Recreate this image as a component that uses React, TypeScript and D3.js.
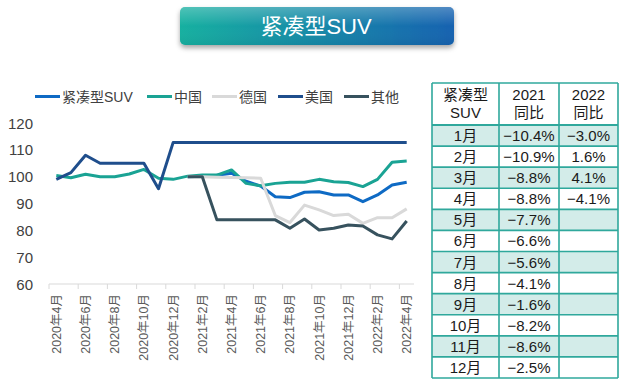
import React from 'react';
import * as d3 from 'd3';

const months = [
  '2020年4月', '2020年5月', '2020年6月', '2020年7月', '2020年8月', '2020年9月', '2020年10月',
  '2020年11月', '2020年12月', '2021年1月', '2021年2月', '2021年3月', '2021年4月', '2021年5月',
  '2021年6月', '2021年7月', '2021年8月', '2021年9月', '2021年10月', '2021年11月', '2021年12月',
  '2022年1月', '2022年2月', '2022年3月', '2022年4月',
];

const compactSuv = [null, null, null, null, null, null, null, null, null,
  100, 100.2, 100.5, 101.3, 98.3, 96.5, 92.5, 92.2, 94.2, 94.4, 93.2, 93.2, 90.7, 93.2, 96.9, 97.9];
const china = [100.4, 99.6, 100.9, 100, 100, 101, 102.7, 99.4, 99.0, 100.2, 100.6, 100.6, 102.5,
  97.5, 96.6, 97.5, 97.9, 97.9, 99.0, 98.1, 97.8, 96.3, 99.0, 105.4, 105.8];
const germany = [null, null, null, null, null, null, null, null, null,
  100, 100, 99.8, 99.7, 99.6, 99.4, 85.5, 82.9, 89.4, 87.6, 85.5, 86.0, 82.6, 84.7, 84.7, 88.0];
const usa = [99.0, 101.5, 108, 105, 105, 105, 105, 95.5, 112.7, 112.7, 112.7, 112.7, 112.7,
  112.7, 112.7, 112.7, 112.7, 112.7, 112.7, 112.7, 112.7, 112.7, 112.7, 112.7, 112.7];
const others = [null, null, null, null, null, null, null, null, null,
  100, 100, 83.9, 83.9, 83.9, 83.9, 83.9, 80.8, 84.2, 80.1, 80.8, 82.0, 81.6, 78.3, 76.8, 83.5];

const seriesNames = ['紧凑型SUV', '中国', '德国', '美国', '其他'];
const seriesColors = ['#0e6ac4', '#1aa394', '#d9d9d9', '#1f4e8c', '#37525e'];
const seriesValues = [compactSuv, china, germany, usa, others];
const yTicks = [60, 70, 80, 90, 100, 110, 120];

const tableMonths = ['1月', '2月', '3月', '4月', '5月', '6月', '7月', '8月', '9月', '10月', '11月', '12月'];
const yoy2021 = [-10.4, -10.9, -8.8, -8.8, -7.7, -6.6, -5.6, -4.1, -1.6, -8.2, -8.6, -2.5];
const yoy2022 = [-3.0, 1.6, 4.1, -4.1];

const font = "'Liberation Sans', Arial, 'Noto Sans CJK SC', sans-serif";

export default function App() {
  const x = d3.scaleBand<string>().domain(months).range([49, 414]).padding(0);
  const y = d3.scaleLinear().domain([60, 120]).range([284, 123]);
  const cx = (i: number) => (x(months[i]) ?? 0) + x.bandwidth() / 2;

  const line = d3.line<number | null>()
    .defined(d => d != null)
    .x((_, i) => cx(i))
    .y(d => y(d as number));

  // legend positions
  const legendX = [35, 147, 212, 278, 344];

  // table
  const colX = [432, 499, 559, 618];
  const rows = d3.scaleBand<string>().domain(tableMonths).range([125, 378]).padding(0);
  const fmt = d3.format('.1f');
  const border = '#2fa89c';

  return (
    <svg width={620} height={386} style={{ position: 'absolute', left: 0, top: 0, fontFamily: font }}>
      <defs>
        <linearGradient id="titleGrad" x1="0" x2="1" y1="0" y2="0">
          <stop offset="0" stopColor="#16b0a0" />
          <stop offset="1" stopColor="#1462b0" />
        </linearGradient>
        <linearGradient id="titleGloss" x1="0" x2="0" y1="0" y2="1">
          <stop offset="0" stopColor="#ffffff" stopOpacity={0.25} />
          <stop offset="0.5" stopColor="#ffffff" stopOpacity={0} />
          <stop offset="1" stopColor="#000000" stopOpacity={0.05} />
        </linearGradient>
        <filter id="shadow" x="-10%" y="-30%" width="120%" height="180%">
          <feDropShadow dx="0" dy="3" stdDeviation="2.5" floodColor="#000" floodOpacity={0.35} />
        </filter>
      </defs>
      <rect width={620} height={386} fill="#fff" />

      {/* title */}
      <rect x={180} y={7} width={274} height={38} rx={5} fill="url(#titleGrad)" filter="url(#shadow)" />
      <rect x={180} y={7} width={274} height={38} rx={5} fill="url(#titleGloss)" />
      <text x={316} y={34} textAnchor="middle" fill="#fff" fontSize={22}>紧凑型SUV</text>

      {/* legend */}
      {seriesNames.map((n, i) => (
        <g key={n}>
          <line x1={legendX[i]} x2={legendX[i] + 25} y1={96.5} y2={96.5} stroke={seriesColors[i]} strokeWidth={3} />
          <text x={legendX[i] + 27} y={101.5} fontSize={14} fill="#404040">{n}</text>
        </g>
      ))}

      {/* y axis labels */}
      {yTicks.map(t => (
        <text key={t} x={33} y={y(t) + 5.5} textAnchor="end" fontSize={15} fill="#404040">{t}</text>
      ))}

      {/* x axis */}
      <line x1={49} x2={414} y1={284} y2={284} stroke="#d9d9d9" strokeWidth={1.2} />
      {months.map((m, i) => i % 2 === 0 ? (
        <g key={m}>
          <line x1={x(m)} x2={x(m)} y1={284} y2={289} stroke="#d9d9d9" strokeWidth={1} />
          <text transform={`translate(${cx(i) + 4.5},294) rotate(-90)`} textAnchor="end" fontSize={12.5} fill="#595959">{m}</text>
        </g>
      ) : null)}

      {/* lines */}
      {seriesValues.map((vals, i) => (
        <path key={seriesNames[i]} d={line(vals) ?? ''} fill="none" stroke={seriesColors[i]} strokeWidth={3} strokeLinejoin="round" />
      ))}

      {/* table */}
      <rect x={colX[0]} y={83} width={colX[3] - colX[0]} height={42} fill="#fff" />
      {tableMonths.map((m, i) => (
        <rect key={m} x={colX[0]} y={rows(m)} width={colX[3] - colX[0]} height={rows.bandwidth()}
          fill={i % 2 === 0 ? '#d3ece9' : '#fff'} />
      ))}
      {[83, 125, ...tableMonths.map(m => (rows(m) ?? 0) + rows.bandwidth())].map((yy, i) => (
        <line key={'h' + i} x1={colX[0]} x2={colX[3]} y1={yy} y2={yy} stroke={border} strokeWidth={i === 1 ? 2 : 1.6} />
      ))}
      {colX.map((xx, i) => (
        <line key={'v' + i} x1={xx} x2={xx} y1={83} y2={378} stroke={border} strokeWidth={1.6} />
      ))}
      <g fontSize={15} fill="#1a1a1a" textAnchor="middle">
        <text x={(colX[0] + colX[1]) / 2} y={100}>紧凑型</text>
        <text x={(colX[0] + colX[1]) / 2} y={118}>SUV</text>
        <text x={(colX[1] + colX[2]) / 2} y={100}>2021</text>
        <text x={(colX[1] + colX[2]) / 2} y={118}>同比</text>
        <text x={(colX[2] + colX[3]) / 2} y={100}>2022</text>
        <text x={(colX[2] + colX[3]) / 2} y={118}>同比</text>
        {tableMonths.map((m, i) => {
          const yy = (rows(m) ?? 0) + rows.bandwidth() / 2 + 5.5;
          return (
            <g key={m}>
              <text x={(colX[0] + colX[1]) / 2} y={yy}>{m}</text>
              <text x={(colX[1] + colX[2]) / 2} y={yy}>{fmt(yoy2021[i])}%</text>
              {i < yoy2022.length ? <text x={(colX[2] + colX[3]) / 2} y={yy}>{fmt(yoy2022[i])}%</text> : null}
            </g>
          );
        })}
      </g>
    </svg>
  );
}
